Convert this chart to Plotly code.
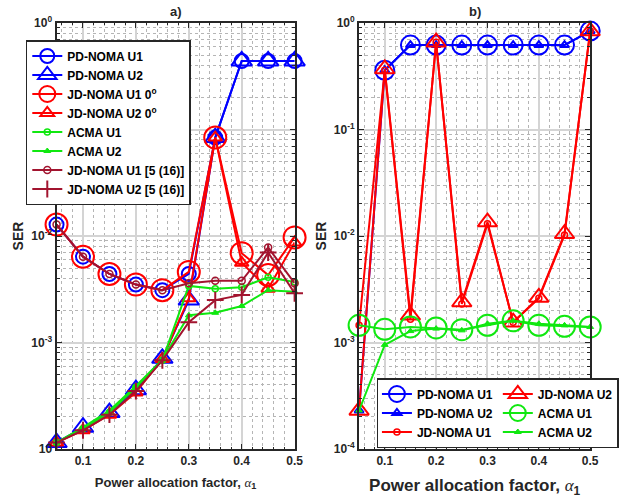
import plotly.graph_objects as go

# ---------------- data ----------------
alpha = [0.05, 0.1, 0.15, 0.2, 0.25, 0.3, 0.35, 0.4, 0.45, 0.5]

# subplot a)
a_pd_u1 = [0.0128, 0.0064, 0.0044, 0.0035, 0.0031, 0.0044, 0.084, 0.44, 0.44, 0.44]
a_pd_u2 = [1.15e-4, 1.6e-4, 2.2e-4, 3.6e-4, 7.1e-4, 2.5e-3, 0.084, 0.44, 0.44, 0.44]
a_jd_u1 = [0.0128, 0.0064, 0.0044, 0.0035, 0.0031, 0.0046, 0.084, 0.0069, 0.0043, 0.0097]
a_jd_u2 = [1.15e-4, 1.5e-4, 2.1e-4, 3.4e-4, 7.0e-4, 2.6e-3, 0.084, 0.0056, 0.0032, 0.0087]
a_acma_u1 = [1.15e-4, 1.55e-4, 2.2e-4, 3.8e-4, 6.8e-4, 0.0034, 0.0032, 0.0033, 0.0041, 0.0037]
a_acma_u2 = [1.15e-4, 1.6e-4, 2.3e-4, 3.9e-4, 6.9e-4, 0.0018, 0.0019, 0.0022, 0.0031, 0.0030]
a_ref_u1 = [0.0128, 0.0064, 0.0044, 0.0035, 0.0031, 0.0036, 0.0038, 0.0038, 0.0078, 0.0036]
a_ref_u2 = [1.15e-4, 1.5e-4, 2.1e-4, 3.5e-4, 6.8e-4, 0.00155, 0.0025, 0.0028, 0.0070, 0.0029]

# subplot b)
b_pd_u1 = [None, 0.36, 0.62, 0.62, 0.62, 0.62, 0.62, 0.62, 0.62, 0.84]
b_pd_u2 = [2.3e-4, 0.36, 0.62, 0.62, 0.62, 0.62, 0.62, 0.62, 0.62, 0.84]
b_jd_u1 = [1.45e-3, 0.36, 1.65e-3, 0.66, 2.3e-3, 0.013, 1.55e-3, 2.6e-3, 0.0102, 0.84]
b_jd_u2 = [2.3e-4, 0.37, 1.8e-3, 0.66, 2.4e-3, 0.0135, 1.55e-3, 2.65e-3, 0.0105, 0.84]
b_acma_u1 = [1.45e-3, 1.33e-3, 1.4e-3, 1.37e-3, 1.32e-3, 1.45e-3, 1.6e-3, 1.45e-3, 1.42e-3, 1.4e-3]
b_acma_u2 = [2.3e-4, 9.5e-4, 1.28e-3, 1.35e-3, 1.3e-3, 1.5e-3, 1.6e-3, 1.5e-3, 1.45e-3, 1.4e-3]

x_tickvals = [0.1, 0.2, 0.3, 0.4, 0.5]
x_ticktext = ["0.1", "0.2", "0.3", "0.4", "0.5"]
y_tickvals = [1e-4, 1e-3, 1e-2, 1e-1, 1]
y_ticktext_a = ["10", "10<sup>-3</sup>", "10<sup>-2</sup>", "10<sup>-1</sup>", "10<sup>0</sup>"]
y_ticktext_b = ["10<sup>-4</sup>", "10<sup>-3</sup>", "10<sup>-2</sup>", "10<sup>-1</sup>", "10<sup>0</sup>"]

BLUE = "#0000FF"
RED = "#FF0000"
GREEN = "#10E810"
BROWN = "#A2142F"
AX = "#262626"

fig = go.Figure()


def add(y, name, color, symbol, size, xa, ya, legend, group=None, fill=False, lw=2):
    fig.add_trace(go.Scatter(
        x=alpha, y=y, name=name, mode="lines+markers",
        line=dict(color=color, width=2),
        marker=dict(symbol=symbol, size=size,
                    color=color if fill else "rgba(0,0,0,0)",
                    line=dict(color=color, width=lw)),
        xaxis=xa, yaxis=ya, legend=legend,
        legendgroup=group, cliponaxis=False, connectgaps=False,
    ))


# left
add(a_pd_u1, "PD-NOMA U1", BLUE, "circle", 14, "x", "y", "legend")
add(a_pd_u2, "PD-NOMA U2", BLUE, "triangle-up", 18, "x", "y", "legend")
add(a_jd_u1, "JD-NOMA U1 0<sup>o</sup>", RED, "circle", 22, "x", "y", "legend")
add(a_jd_u2, "JD-NOMA U2 0<sup>o</sup>", RED, "triangle-up", 12, "x", "y", "legend")
add(a_acma_u1, "ACMA U1", GREEN, "circle", 6, "x", "y", "legend", lw=1.5)
add(a_acma_u2, "ACMA U2", GREEN, "triangle-up", 6, "x", "y", "legend", fill=True, lw=1)
add(a_ref_u1, "JD-NOMA U1 [5 (16)]", BROWN, "circle", 7, "x", "y", "legend", lw=1.5)
add(a_ref_u2, "JD-NOMA U2 [5 (16)]", BROWN, "cross-thin", 12, "x", "y", "legend")

# right
add(b_pd_u1, "PD-NOMA U1", BLUE, "circle", 19, "x2", "y2", "legend2", group="c1")
add(b_pd_u2, "PD-NOMA U2", BLUE, "triangle-up", 8, "x2", "y2", "legend2", group="c1")
add(b_jd_u1, "JD-NOMA U1", RED, "circle", 6, "x2", "y2", "legend2", group="c1", lw=1.5)
add(b_jd_u2, "JD-NOMA U2", RED, "triangle-up", 17, "x2", "y2", "legend2", group="c2")
add(b_acma_u1, "ACMA U1", GREEN, "circle", 21, "x2", "y2", "legend2", group="c2")
add(b_acma_u2, "ACMA U2", GREEN, "triangle-up", 6, "x2", "y2", "legend2", group="c2", fill=True, lw=1)

W, H = 619, 501
ydom = [1 - 449 / H, 1 - 23 / H]

tickfont = dict(family="Liberation Sans, Arial", size=12, color=AX, weight="bold")


def xaxis(dom, title_size, standoff):
    return dict(
        domain=dom, range=[0.05, 0.5], type="linear",
        tickmode="array", tickvals=x_tickvals, ticktext=x_ticktext,
        showline=True, linecolor=AX, linewidth=2, mirror="allticks",
        ticks="inside", ticklen=5, tickcolor=AX, tickwidth=1,
        showgrid=True, gridcolor="#d4d4d4", gridwidth=1.5, zeroline=False,
        minor=dict(tickmode="linear", tick0=0, dtick=0.02, showgrid=True,
                   griddash="dot", gridcolor="#b5b5b5", gridwidth=1,
                   ticks="inside", ticklen=2, tickcolor=AX),
        tickfont=tickfont, automargin=False,
        title=dict(text="Power allocation factor, <span style='font-family:Liberation Serif;font-weight:normal'><i>α</i></span><sub>1</sub>",
                   font=dict(family="Liberation Sans, Arial", size=title_size, color=AX, weight="bold"),
                   standoff=standoff),
    )


def yaxis(ticktext, standoff):
    return dict(
        domain=ydom, type="log", range=[-4, 0],
        tickmode="array", tickvals=y_tickvals, ticktext=ticktext,
        showline=True, linecolor=AX, linewidth=2, mirror="allticks",
        ticks="inside", ticklen=5, tickcolor=AX, tickwidth=1,
        showgrid=True, gridcolor="#d4d4d4", gridwidth=1.5, zeroline=False,
        minor=dict(dtick="D1", showgrid=True, griddash="dot", gridcolor="#b5b5b5",
                   gridwidth=1, ticks="inside", ticklen=3, tickcolor=AX),
        tickfont=tickfont, automargin=False,
        title=dict(text="SER", font=dict(family="Liberation Sans, Arial", size=14, color=AX, weight="bold"),
                   standoff=standoff),
    )


xa1 = xaxis([57 / W, 297 / W], 13, 10)
xa1["anchor"] = "y"
xa2 = xaxis([362 / W, 595 / W], 17, 12)
xa2["anchor"] = "y2"
ya1 = yaxis(y_ticktext_a, 4)
ya1["anchor"] = "x"
ya2 = yaxis(y_ticktext_b, 4)
ya2["anchor"] = "x2"

legfont = dict(family="Liberation Sans, Arial", size=12, color="black", weight="bold")

fig.update_layout(
    width=W, height=H, margin=dict(l=0, r=0, t=0, b=0),
    paper_bgcolor="white", plot_bgcolor="white",
    font=dict(family="Liberation Sans, Arial", color=AX),
    xaxis=xa1, yaxis=ya1, xaxis2=xa2, yaxis2=ya2,
    showlegend=True,
    legend=dict(x=26 / W, y=1 - 40 / H, xanchor="left", yanchor="top",
                bgcolor="white", bordercolor=AX, borderwidth=1.5,
                font=legfont, tracegroupgap=0, itemsizing="trace"),
    legend2=dict(x=380 / W, y=1 - 378 / H, xanchor="left", yanchor="top",
                 orientation="h", traceorder="grouped", tracegroupgap=0,
                 bgcolor="white", bordercolor=AX, borderwidth=1.5,
                 font=legfont, itemsizing="trace"),
    annotations=[
        dict(text="a)", x=(57 + 297) / 2 / W, y=1 - 11 / H, xref="paper", yref="paper",
             yanchor="middle", xanchor="center",
             showarrow=False, font=dict(size=13, color=AX, weight="bold")),
        dict(text="b)", x=(362 + 595) / 2 / W, y=1 - 11 / H, xref="paper", yref="paper",
             yanchor="middle", xanchor="center",
             showarrow=False, font=dict(size=13, color=AX, weight="bold")),
    ],
)

fig.write_html("out.html", config={"displayModeBar": False},
               post_script="document.body.style.margin='0px';document.body.style.overflow='hidden';")
